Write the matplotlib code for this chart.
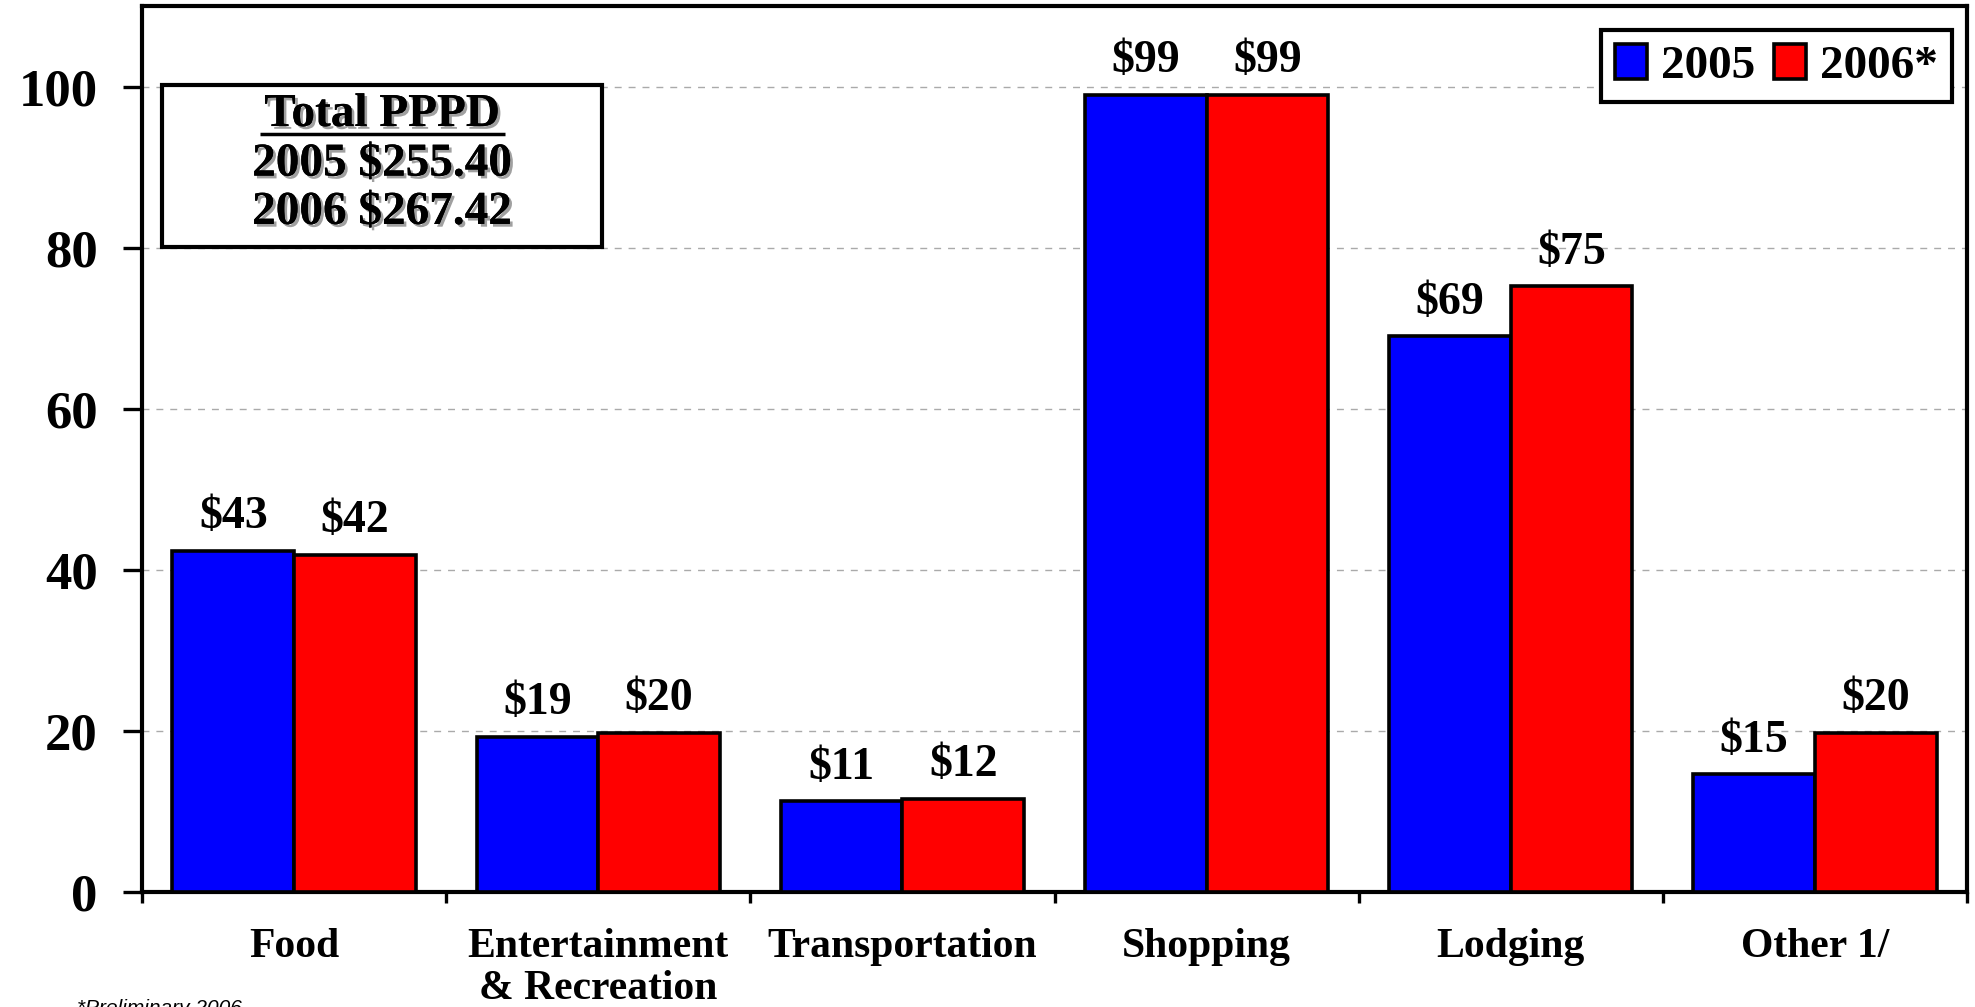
import matplotlib
matplotlib.use('Agg')
import matplotlib.pyplot as plt
import matplotlib.patheffects as pe
from matplotlib.patches import Rectangle
import numpy as np

# Spending per person per day by category
categories = ['Food', 'Entertainment\n& Recreation', 'Transportation',
              'Shopping', 'Lodging', 'Other 1/']
spend_2005 = [42.4, 19.3, 11.3, 99.0, 69.0, 14.6]
spend_2006 = [41.9, 19.8, 11.6, 99.0, 75.2, 19.8]
labels_2005 = ['$43', '$19', '$11', '$99', '$69', '$15']
labels_2006 = ['$42', '$20', '$12', '$99', '$75', '$20']
totals = ['2005 $255.40', '2006 $267.42']

plt.rcParams['font.family'] = 'Liberation Serif'
plt.rcParams['font.weight'] = 'bold'

fig = plt.figure(figsize=(19.75, 10.07), dpi=100)
ax = fig.add_axes([0.0719, 0.1142, 0.9241, 0.8798])

x = np.arange(len(categories))
w = 0.4
b1 = ax.bar(x - w / 2, spend_2005, w, color='#0000ff', edgecolor='black',
            linewidth=2.6, label='2005', zorder=3)
b2 = ax.bar(x + w / 2, spend_2006, w, color='#ff0000', edgecolor='black',
            linewidth=2.6, label='2006*', zorder=3)

for bars, labs in [(b1, labels_2005), (b2, labels_2006)]:
    for bar, lab in zip(bars, labs):
        ax.annotate(lab, (bar.get_x() + bar.get_width() / 2, bar.get_height()),
                    xytext=(0, 16), textcoords='offset points',
                    ha='center', va='baseline', fontsize=33, fontweight='bold')

ax.set_xlim(-0.5, len(categories) - 0.5)
ax.set_ylim(0, 110)
ax.set_yticks([0, 20, 40, 60, 80, 100])
ax.set_xticks(x)
ax.set_xticklabels(categories, fontsize=30, fontweight='bold', linespacing=1.15)
ax.set_xticks(np.arange(-0.5, len(categories)), minor=True)
ax.tick_params(axis='x', which='major', length=0, pad=26)
ax.tick_params(axis='x', which='minor', length=8, width=2.4, direction='out')
ax.tick_params(axis='y', length=14, width=2.4, direction='out', pad=18,
               labelsize=38)
for t in ax.get_yticklabels():
    t.set_fontweight('bold')

ax.yaxis.grid(True, color='#aaaaaa', linewidth=1, dashes=(5, 5))
ax.set_axisbelow(True)
for s in ax.spines.values():
    s.set_linewidth(3)

leg = ax.legend(loc='upper right', bbox_to_anchor=(0.992, 0.973), ncol=2,
                borderaxespad=0, fancybox=False, frameon=True,
                prop={'family': 'Liberation Serif', 'weight': 'bold', 'size': 34},
                handlelength=0.68, handleheight=0.75, handletextpad=0.3,
                columnspacing=0.4, borderpad=0.3)
leg.get_frame().set_edgecolor('black')
leg.get_frame().set_linewidth(3)
leg.get_frame().set_alpha(1)

# total PPPD box
ax.add_patch(Rectangle((0.011, 0.728), 0.241, 0.183, transform=ax.transAxes,
                       facecolor='white', edgecolor='black', linewidth=3, zorder=4))
shadow = [pe.withSimplePatchShadow(offset=(2, -2), shadow_rgbFace='#888888', alpha=0.8),
          pe.Normal()]
ax.text(0.1315, 0.877, 'Total PPPD', transform=ax.transAxes, ha='center',
        va='center', fontsize=34, fontweight='bold', zorder=5, path_effects=shadow)
ax.plot([0.0647, 0.199], [0.856, 0.856], transform=ax.transAxes, color='black',
        linewidth=2.5, zorder=5, solid_capstyle='butt')
ax.text(0.1315, 0.821, totals[0], transform=ax.transAxes, ha='center',
        va='center', fontsize=34, fontweight='bold', zorder=5, path_effects=shadow)
ax.text(0.1315, 0.7665, totals[1], transform=ax.transAxes, ha='center',
        va='center', fontsize=34, fontweight='bold', zorder=5, path_effects=shadow)

fig.text(0.039, 0.008, '*Preliminary 2006', fontsize=15, family='Liberation Sans',
         style='italic', fontweight='normal', va='top', ha='left')

fig.savefig('out.png', dpi=100)
